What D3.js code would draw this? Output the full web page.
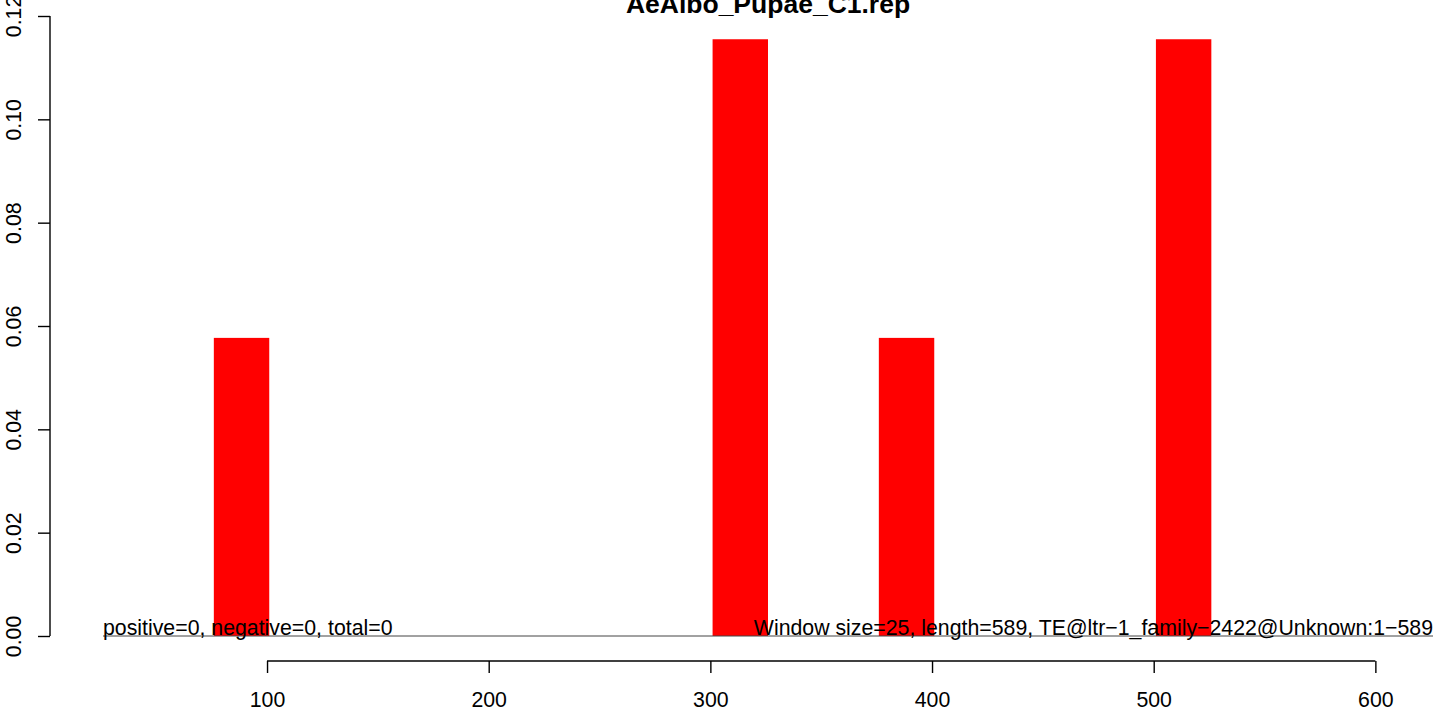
<!DOCTYPE html>
<html>
<head>
<meta charset="utf-8">
<script src="https://cdn.jsdelivr.net/npm/d3@7"></script>
<style>
  html, body { margin: 0; padding: 0; background: #fff; }
  svg { display: block; font-family: "Liberation Sans", Arial, Helvetica, sans-serif; }
</style>
</head>
<body>
<svg id="chart" width="1444" height="711"></svg>
<script>
// ---- data ----
const title = "AeAlbo_Pupae_C1.rep";
const windowSize = 25;
const windowStarts = [76, 301, 376, 501];
const windowValues = [0.0577, 0.1155, 0.0577, 0.1155];
const xTicks = [100, 200, 300, 400, 500, 600];
const yTicks = [0.00, 0.02, 0.04, 0.06, 0.08, 0.10, 0.12];
const leftNote = "positive=0, negative=0, total=0";
const rightNote = "Window size=25, length=589, TE@ltr\u22121_family\u22122422@Unknown:1\u2212589";

// ---- layout ----
const svg = d3.select("#chart");
const x = d3.scaleLinear().domain([26, 626]).range([103, 1433]);
const y = d3.scaleLinear().domain([0, 0.12]).range([636, 16]);
const fs = 21.3;

// bars
svg.append("g").selectAll("rect")
  .data(windowStarts.map((s, i) => ({ s, v: windowValues[i] })))
  .join("rect")
  .attr("x", d => x(d.s))
  .attr("width", d => x(d.s + windowSize) - x(d.s))
  .attr("y", d => y(d.v))
  .attr("height", d => y(0) - y(d.v))
  .attr("fill", "#ff0000");

// baseline
svg.append("line")
  .attr("x1", x.range()[0]).attr("x2", x.range()[1])
  .attr("y1", y(0)).attr("y2", y(0))
  .attr("stroke", "#444").attr("stroke-width", 1);

// notes
svg.append("text").attr("x", x.range()[0]).attr("y", y(0) - 1)
  .attr("font-size", fs).attr("fill", "#000").text(leftNote);
svg.append("text").attr("x", x.range()[1]).attr("y", y(0) - 1)
  .attr("text-anchor", "end")
  .attr("font-size", fs).attr("fill", "#000").text(rightNote);

// x axis
const xAxis = d3.axisBottom(x).tickValues(xTicks).tickSize(12).tickSizeOuter(0).tickPadding(4)
  .tickFormat(d3.format("d"));
const gx = svg.append("g").attr("transform", "translate(0,661)").call(xAxis);
gx.select(".domain").attr("d", `M${x(100)},0H${x(600)}`).attr("stroke", "#000").attr("stroke-width", 1.4);
gx.selectAll(".tick line").attr("stroke", "#000").attr("stroke-width", 1.4);
gx.selectAll(".tick text").attr("font-size", fs).attr("font-family", "Liberation Sans, Arial, sans-serif")
  .attr("fill", "#000").attr("dy", null).attr("y", 45.5);

// y axis
const yAxis = d3.axisLeft(y).tickValues(yTicks).tickSize(12).tickSizeOuter(0)
  .tickFormat(d3.format(".2f"));
const gy = svg.append("g").attr("transform", "translate(50,0)").call(yAxis);
gy.select(".domain").attr("d", `M0,${y(0)}V${y(0.12)}`).attr("stroke", "#000").attr("stroke-width", 1.4);
gy.selectAll(".tick line").attr("stroke", "#000").attr("stroke-width", 1.4);
gy.selectAll(".tick text").attr("font-size", fs).attr("font-family", "Liberation Sans, Arial, sans-serif")
  .attr("fill", "#000")
  .attr("x", null).attr("dy", null)
  .attr("text-anchor", "middle")
  .attr("transform", "translate(-29,0) rotate(-90)");

// title
svg.append("text").attr("x", (x.range()[0] + x.range()[1]) / 2).attr("y", 13)
  .attr("text-anchor", "middle").attr("font-weight", "bold")
  .attr("font-size", 26.5).attr("fill", "#000").text(title);
</script>
</body>
</html>
